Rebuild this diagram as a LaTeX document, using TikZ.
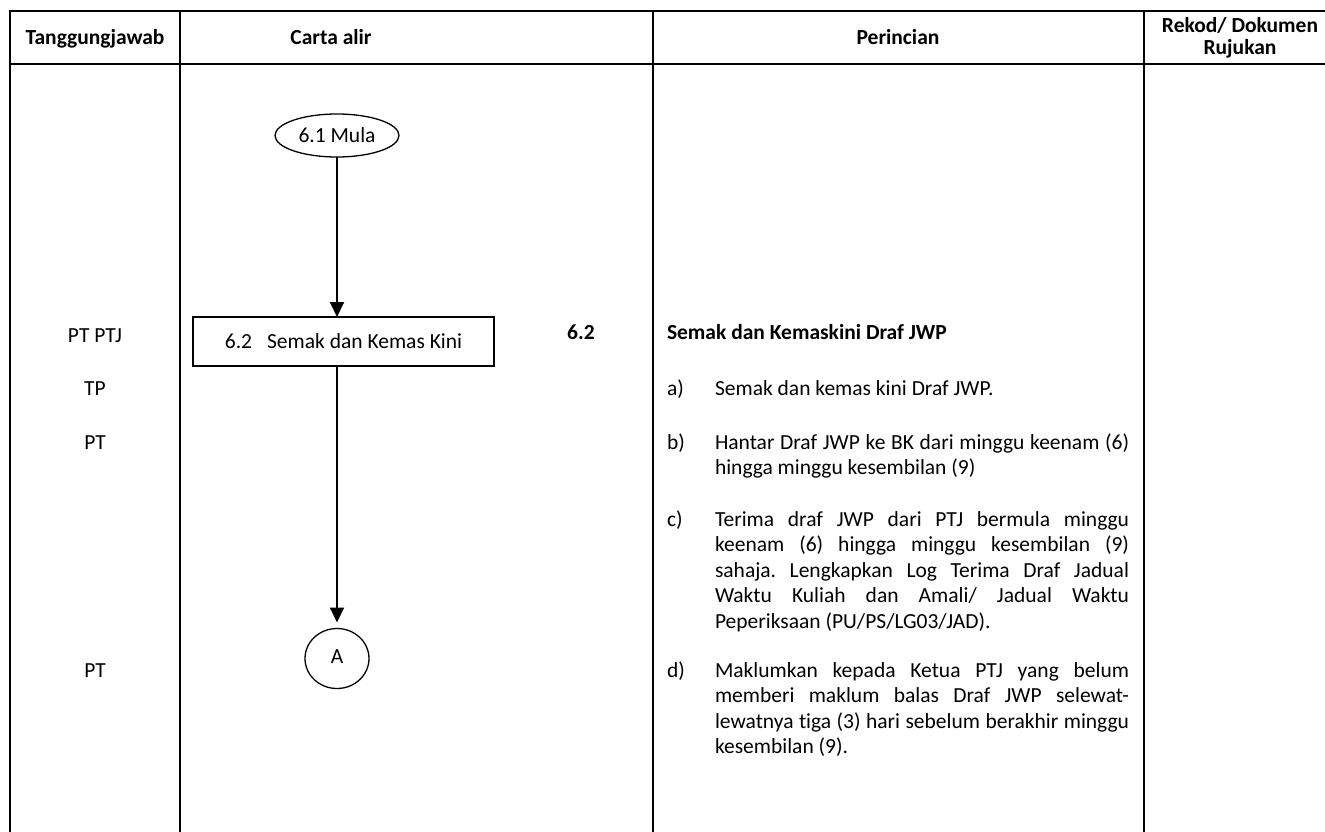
\documentclass[tikz,border=0pt]{standalone}
\usepackage{fontspec}
\setmainfont{Carlito}[Ligatures=NoCommon]
\usetikzlibrary{arrows.meta,shapes.geometric}
\frenchspacing
\newcommand{\jline}[1]{\makebox[414pt][s]{\spaceskip=0pt\xspaceskip=0pt #1}}
\begin{document}
\begin{tikzpicture}[x=1pt,y=-1pt,
  every node/.style={inner sep=0pt, outer sep=0pt, font=\fontsize{21.5}{25.5}\selectfont},
  tbl/.style={line width=2pt, line cap=rect},
  hd/.style={font=\fontsize{21.5}{22}\selectfont\bfseries, anchor=base},
  hdtwo/.style={font=\fontsize{21.5}{22}\selectfont\bfseries, align=center},
  lbl/.style={anchor=base},
  item/.style={anchor=base west},
  para/.style={anchor=north west, align=justify, text width=414pt},
  arr/.style={line width=2pt, -{Triangle[length=15pt,width=14pt]}},
  shp/.style={draw, line width=1.3pt},
]
\useasboundingbox (0,0) rectangle (1325,832);

% table
\draw[tbl] (10,11) -- (1325,11);
\draw[tbl] (10,64) -- (1325,64);
\draw[tbl] (10,11) -- (10,834);
\draw[tbl] (180,11) -- (180,834);
\draw[tbl] (653,11) -- (653,834);
\draw[tbl] (1144,11) -- (1144,834);

% header
\node[hd] (h1) at (95,45) {Tanggungjawab};
\node[hd] (h2) at (331,45) {Carta alir};
\node[hd] (h3) at (898,45) {Perincian};
\node[hdtwo] (h4) at (1240,38) {Rekod/ Dokumen\\Rujukan};

% responsibility
\node[lbl] (r1) at (95,342) {PT PTJ};
\node[lbl] (r2) at (95,395) {TP};
\node[lbl] (r3) at (95,449) {PT};
\node[lbl] (r4) at (95,677) {PT};

% flowchart
\node[shp, ellipse, minimum width=124pt, minimum height=43pt] (mula) at (337,135.5) {6.1 Mula};
\node[shp, rectangle, minimum width=301pt, minimum height=49pt] (semak) at (343.5,341.5) {6.2\hspace{15pt}Semak dan Kemas Kini};
\node[shp, ellipse, minimum width=64pt, minimum height=60pt] (conA) at (337,658.5) {\raisebox{3pt}{A}};
\draw[arr] (mula.south) -- (mula.south |- semak.north);
\draw[arr, shorten >=6pt] (semak.south -| mula.south) -- (conA.north);

\node[lbl, font=\fontsize{21.5}{25.5}\selectfont\bfseries] (num) at (581,339) {6.2};

% details
\node[item, font=\fontsize{21.5}{25.5}\selectfont\bfseries] (title) at (667,339) {Semak dan Kemaskini Draf JWP};
\node[item] (la) at (667,395) {a)};
\node[item] (lb) at (667,449) {b)};
\node[item] (lc) at (667,526) {c)};
\node[item] (ld) at (667,677) {d)};

\node[para] (ta) at (715,377.15) {\strut Semak dan kemas kini Draf JWP.};
\node[para] (tb) at (715,431.15) {\strut\jline{Hantar Draf JWP ke BK dari minggu keenam (6)}\\
hingga minggu kesembilan (9)};
\node[para] (tc) at (715,508.15) {\strut\jline{Terima draf JWP dari PTJ bermula minggu}\\
\jline{keenam (6) hingga minggu kesembilan (9)}\\
\jline{sahaja. Lengkapkan Log Terima Draf Jadual}\\
\jline{Waktu Kuliah dan Amali/ Jadual Waktu}\\
Peperiksaan (PU/PS/LG03/JAD).};
\node[para] (td) at (715,659.15) {\strut\jline{Maklumkan kepada Ketua PTJ yang belum}\\
\jline{memberi maklum balas Draf JWP selewat-}\\
\jline{lewatnya tiga (3) hari sebelum berakhir minggu}\\
kesembilan (9).};
\end{tikzpicture}
\end{document}
